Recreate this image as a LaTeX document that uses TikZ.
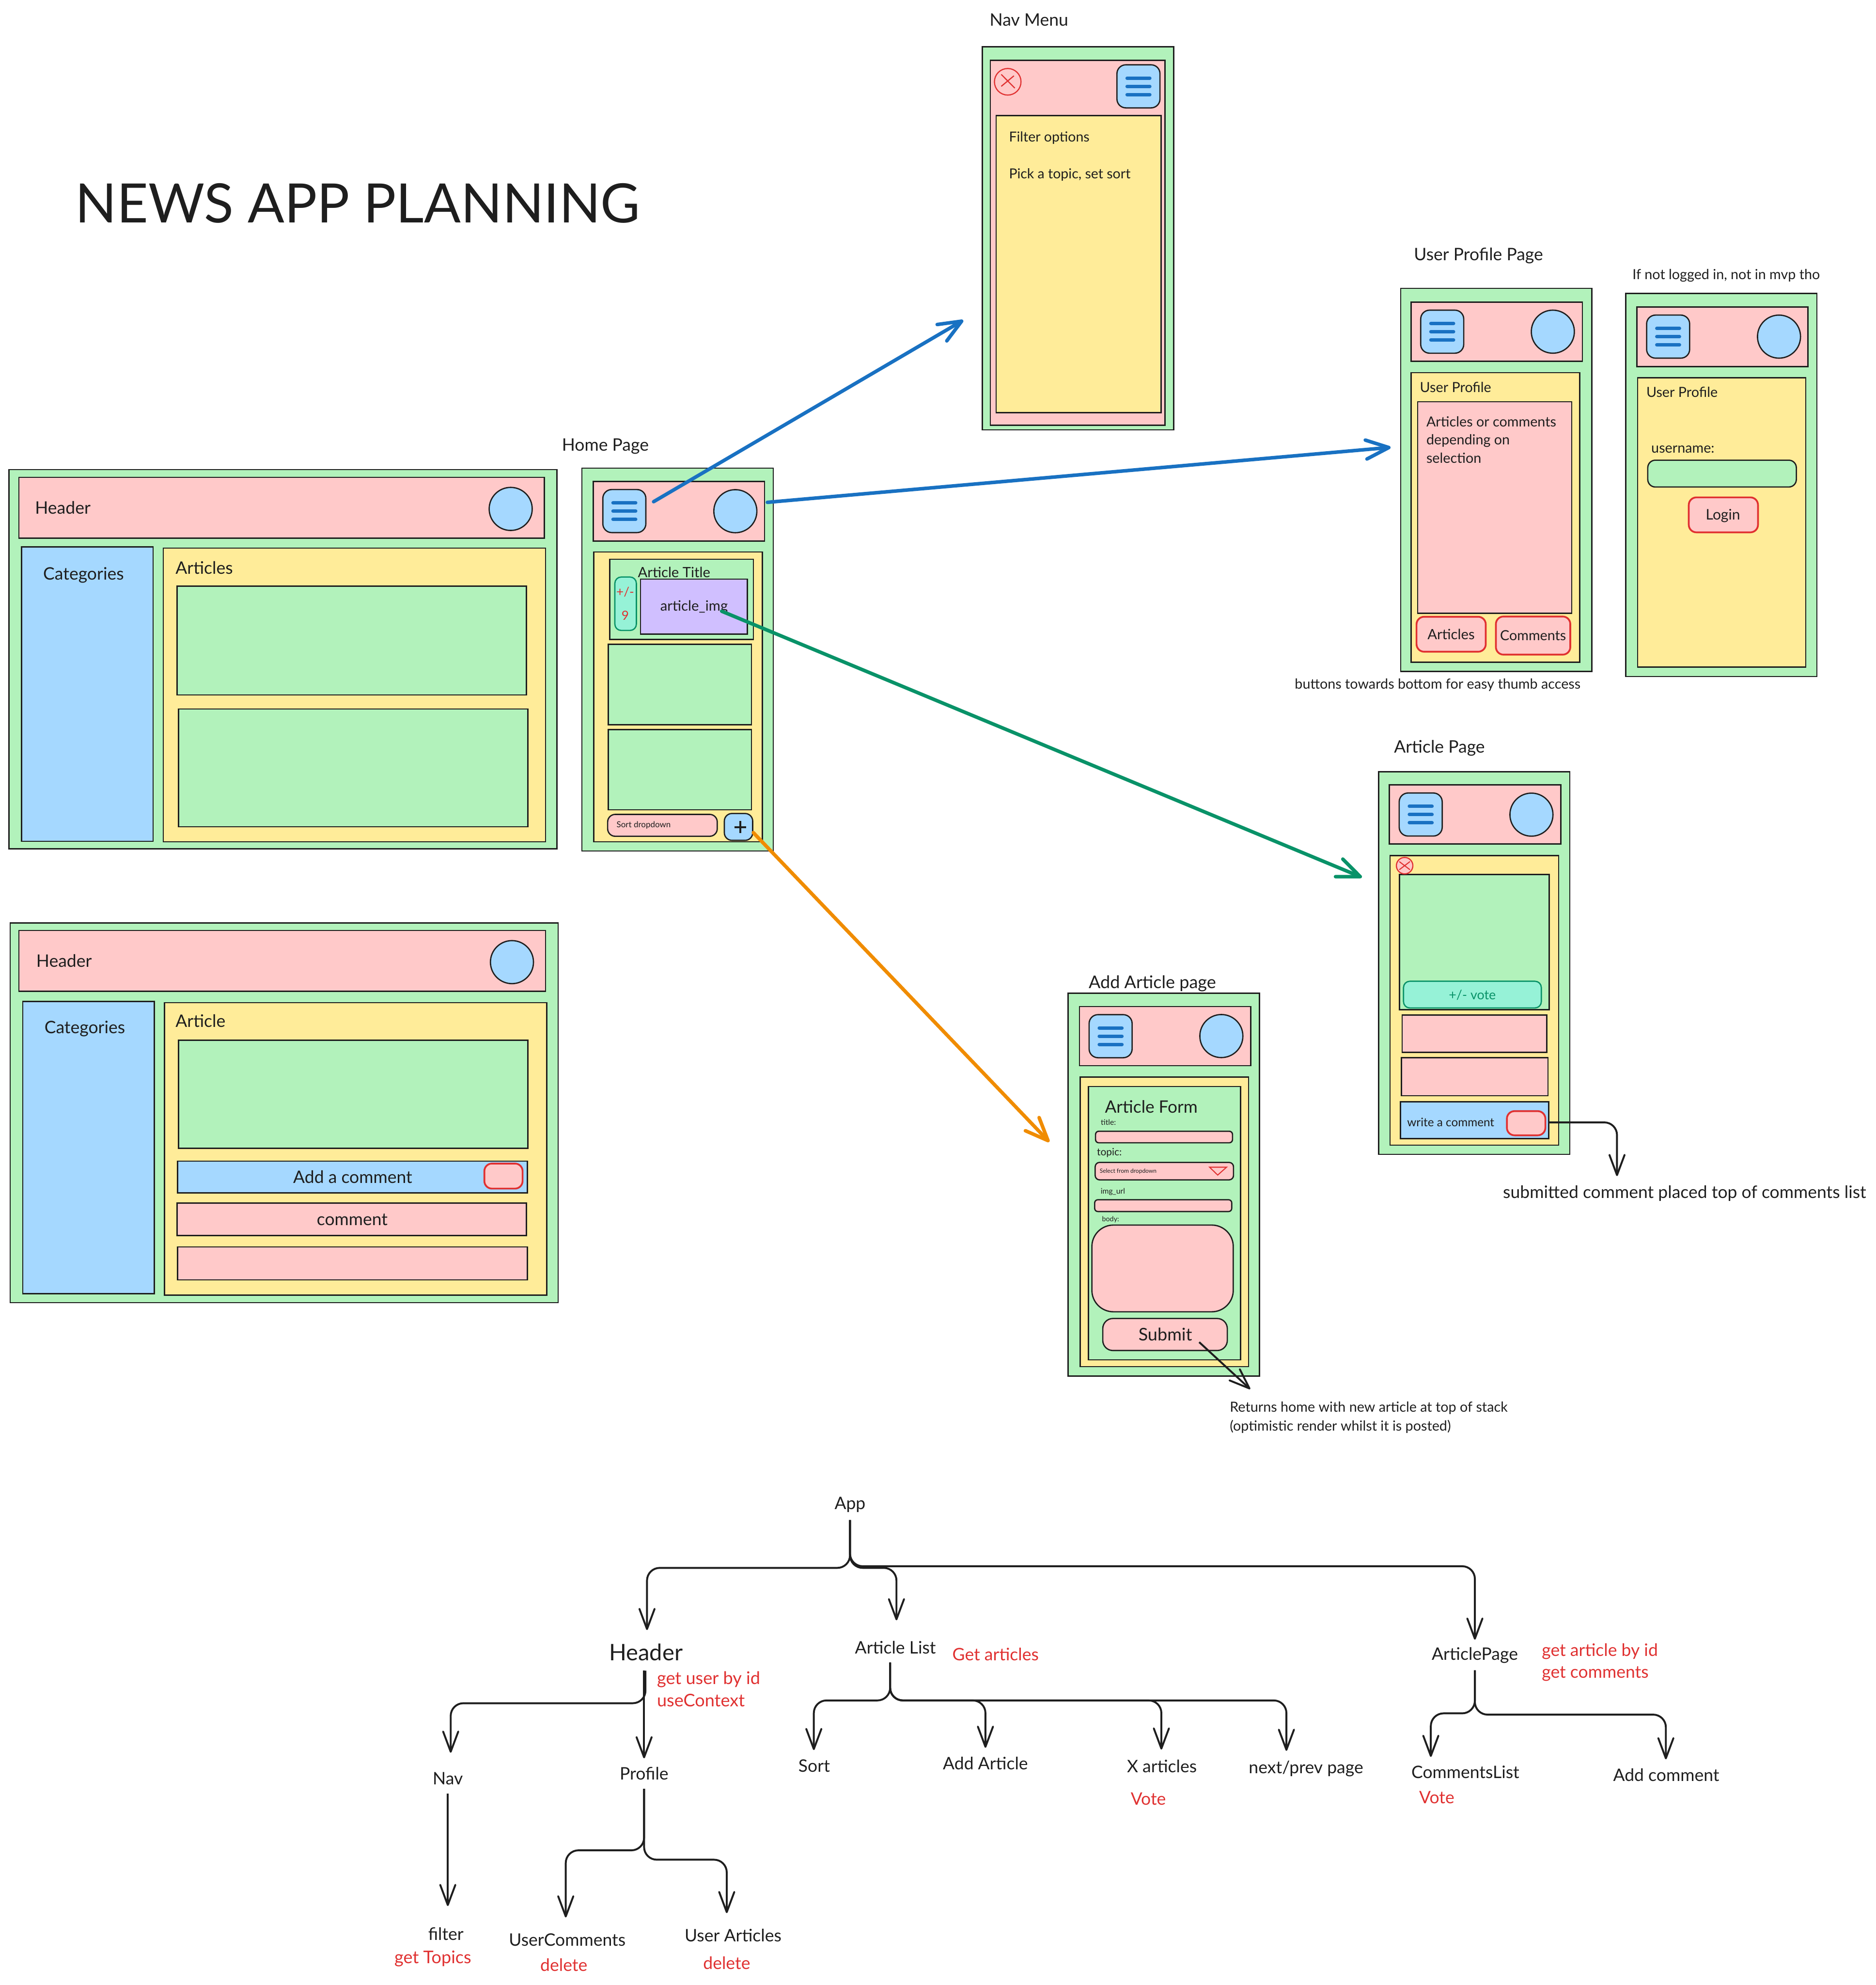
\documentclass[tikz,border=0pt]{standalone}
\usepackage{fontspec}
\setmainfont{Lato}
\usetikzlibrary{arrows.meta, fit}

\definecolor{ink}{HTML}{1E1E1E}
\definecolor{panelgreen}{HTML}{B2F2BB}
\definecolor{panelpink}{HTML}{FFC9C9}
\definecolor{panelblue}{HTML}{A5D8FF}
\definecolor{panelyellow}{HTML}{FFEC99}
\definecolor{panelpurple}{HTML}{D0BFFF}
\definecolor{panelteal}{HTML}{96F2D7}
\definecolor{redline}{HTML}{E03131}
\definecolor{greenline}{HTML}{099268}
\definecolor{blueline}{HTML}{1971C2}
\definecolor{orangeline}{HTML}{F08C00}

\begin{document}
\begin{tikzpicture}[
    x=1pt, y=-1pt,
    box/.style={draw=ink, line width=1pt, rectangle, inner sep=0pt, fill=#1},
    rbox/.style={box=#1, rounded corners=6pt},
    redbtn/.style={draw=redline, line width=1.4pt, fill=panelpink, rectangle, inner sep=0pt, rounded corners=6pt},
    tealbtn/.style={draw=greenline, line width=1pt, fill=panelteal, rectangle, inner sep=0pt, rounded corners=5pt},
    menubtn/.style={box=panelblue, rounded corners=7pt, minimum size=34pt},
    menubar/.style={draw=blueline, line width=2.6pt, line cap=round},
    avatar/.style={draw=ink, line width=1pt, circle, fill=panelblue, inner sep=0pt, minimum size=34pt},
    closer/.style={draw=redline, line width=0.9pt, circle, fill=panelpink, inner sep=0pt},
    txt/.style={inner sep=0.5pt, text=ink, font=\fontsize{#1}{#1}\selectfont},
    redtxt/.style={txt=#1, text=redline},
    bigarrow/.style={line width=2.8pt, line cap=round, draw=#1, -{Straight Barb[length=18pt,width=15pt,round]}},
    treeline/.style={draw=ink, line width=1.5pt, rounded corners=10pt, -{Straight Barb[length=16pt,width=12pt,round]}},
]
\useasboundingbox (0,0) rectangle (1482,1568);

\node[txt=42.9, anchor=west] (title) at (59,160.5) {NEWS APP PLANNING};

% Desktop home
\node[box=panelgreen, fit={(7,371)(440,670.5)}] (deskhome) {};
\node[box=panelpink, fit={(15,377)(430,425)}] (deskhomehead) {};
\node[box=panelblue, fit={(17,432)(121,664.5)}] (deskhomecats) {};
\node[box=panelyellow, fit={(129,433)(431,665)}] (deskhomelist) {};
\node[box=panelgreen, fit={(140,463)(416,549)}] (deskhomecard) {};
\node[box=panelgreen, fit={(141,560)(417,653)}] (deskhomecardb) {};
\node[avatar] (deskhomeavatar) at (403.5,402) {};
\node[txt=13.6, anchor=west] (deskhomeheadtxt) at (27,401) {Header};
\node[txt=13.6] (deskhomecatstxt) at (66,454.5) {Categories};
\node[txt=13.6, anchor=west] (deskhomelisttxt) at (138,448.5) {Articles};

% Desktop article
\node[box=panelgreen, fit={(8,729)(441,1029)}] (deskart) {};
\node[box=panelpink, fit={(15,735)(431,783)}] (deskarthead) {};
\node[box=panelblue, fit={(18,791)(122,1022)}] (deskartcats) {};
\node[box=panelyellow, fit={(130,792)(432,1023)}] (deskartbody) {};
\node[box=panelgreen, fit={(141,821.6)(417,907)}] (deskartcard) {};
\node[box=panelblue, fit={(140.4,917.2)(416.6,942.2)}] (deskartadd) {};
\node[redbtn, fit={(382.7,919.1)(412.9,938.9)}] (deskartbtn) {};
\node[box=panelpink, fit={(139.8,950.4)(416,976)}] (deskartcomment) {};
\node[box=panelpink, fit={(140.4,985)(416.6,1011)}] (deskartcommentb) {};
\node[avatar] (deskartavatar) at (404.5,760) {};
\node[txt=13.6, anchor=west] (deskartheadtxt) at (28,759) {Header};
\node[txt=13.6] (deskartcatstxt) at (67,812.5) {Categories};
\node[txt=13.6, anchor=west] (deskartbodytxt) at (138,806.5) {Article};
\node[txt=13.6] (deskartaddtxt) at (278.7,929.8) {Add a comment};
\node[txt=13.6] (deskartcommenttxt) at (278.3,963.3) {comment};

% Home page
\node[txt=13.6] (hometitle) at (478.3,352.6) {Home Page};
\node[box=panelgreen, fit={(459.7,369.8)(611,672.2)}] (home) {};
\node[box=panelpink, fit={(468.7,380.3)(604,427.3)}] (homehead) {};
\node[box=panelyellow, fit={(469.2,436)(602.4,664.9)}] (homebody) {};
\node[box=panelgreen, fit={(481.8,441.8)(595.2,505)}] (homecard) {};
\node[tealbtn, fit={(485.8,455.8)(502.8,498)}] (homevote) {};
\node[box=panelpurple, fit={(506,457.4)(590.5,501)}] (homeimg) {};
\node[box=panelgreen, fit={(480.5,508.9)(593.8,572.6)}] (homecardb) {};
\node[box=panelgreen, fit={(480.5,576.4)(593.8,639.7)}] (homecardc) {};
\node[rbox=panelpink, fit={(480.1,643.3)(566.7,660.6)}] (homesort) {};
\node[rbox=panelblue, fit={(572.3,642.6)(594.7,663.8)}] (homeplus) {};
\draw[draw=ink, line width=1.6pt] (580.2,653.3) -- (589.6,653.3) (584.9,648.6) -- (584.9,658);
\node[txt=11.2] (hometitletxt) at (532.6,452) {Article Title};
\node[redtxt=10] (homevotetxt) at (494,467.6) {+/-};
\node[redtxt=10] (homevotenum) at (494,486) {9};
\node[txt=11.2] (homeimgtxt) at (548.4,479.3) {article\_img};
\node[txt=6.5, anchor=west] (homesorttxt) at (486.5,652) {Sort dropdown};

% Nav menu
\node[txt=13.6] (navtitle) at (813,15.6) {Nav Menu};
\node[box=panelgreen, fit={(776.2,37)(927.3,339.5)}] (nav) {};
\node[box=panelpink, fit={(782.4,47.7)(920.4,336)}] (navhead) {};
\node[box=panelyellow, fit={(787,91.4)(917.4,326)}] (navbody) {};
\node[closer, minimum size=21pt] (navclose) at (796.2,64.6) {};
\draw[draw=redline, line width=0.9pt] (791.1,58.8) -- (801.8,69.6) (801.1,59.9) -- (791.1,68.2);
\node[txt=10.9, anchor=west] (navfilter) at (796.5,108.9) {Filter options};
\node[txt=10.9, anchor=west] (navpick) at (796.5,137.8) {Pick a topic, set sort};

% User profile
\node[txt=13.6] (proftitle) at (1168.2,202) {User Profile Page};
\node[box=panelgreen, fit={(1106.7,227.8)(1257.7,530.4)}] (prof) {};
\node[box=panelpink, fit={(1115,238.6)(1250.2,285.3)}] (profhead) {};
\node[box=panelyellow, fit={(1115,294.4)(1248.2,523.2)}] (profbody) {};
\node[box=panelpink, fit={(1120.1,317.3)(1241.9,484.4)}] (proflist) {};
\node[redbtn, fit={(1119.2,487.2)(1173.9,514.8)}] (profarticles) {};
\node[redbtn, fit={(1181.9,487)(1240.7,517.1)}] (profcomments) {};
\node[txt=11, anchor=west] (profbodytxt) at (1121.2,305.8) {User Profile};
\node[txt=11, anchor=north west, align=left, font=\fontsize{11}{14.4}\selectfont] (proflisttxt) at (1126.3,328.2) {Articles or comments\\depending on\\selection};
\node[txt=11.2] (profarticlestxt) at (1146.5,501) {Articles};
\node[txt=11] (profcommentstxt) at (1211.3,502) {Comments};
\node[txt=11] (profnote) at (1135.9,541) {buttons towards bottom for easy thumb access};

% Login
\node[txt=11] (loginnote) at (1363.9,217.7) {If not logged in, not in mvp tho};
\node[box=panelgreen, fit={(1284.4,231.8)(1435.6,534.4)}] (login) {};
\node[box=panelpink, fit={(1293.3,242.5)(1428.5,289.5)}] (loginhead) {};
\node[box=panelyellow, fit={(1293.9,298.3)(1426.7,526.9)}] (loginbody) {};
\node[rbox=panelgreen, fit={(1301.9,363.5)(1419.3,384.7)}] (loginfield) {};
\node[redbtn, fit={(1334.3,392.9)(1389,420.5)}] (loginbtn) {};
\node[txt=11, anchor=west] (loginbodytxt) at (1300.1,309.7) {User Profile};
\node[txt=11, anchor=west] (loginuser) at (1304,354.8) {username:};
\node[txt=11.5] (loginbtntxt) at (1361.3,407.4) {Login};

% Article page
\node[txt=13.6] (arttitle) at (1137.3,590.8) {Article Page};
\node[box=panelgreen, fit={(1089.3,609.6)(1240.3,911.8)}] (art) {};
\node[box=panelpink, fit={(1097.8,620)(1233.3,666.7)}] (arthead) {};
\node[box=panelyellow, fit={(1098.3,675.8)(1231.5,904.6)}] (artbody) {};
\node[box=panelgreen, fit={(1105.8,690.7)(1224.1,797.6)}] (artcard) {};
\node[closer, minimum size=13pt] (artclose) at (1109.8,683.8) {};
\draw[draw=redline, line width=0.8pt] (1105.6,680.6) -- (1114,687) (1114,680.6) -- (1105.6,687);
\node[tealbtn, fit={(1108.9,775.1)(1217.8,796.2)}] (artvote) {};
\node[txt=10.3, text=greenline] (artvotetxt) at (1163.3,785.8) {+/- vote};
\node[box=panelpink, fit={(1107.8,801.7)(1222,831.2)}] (artcomment) {};
\node[box=panelpink, fit={(1107.2,835.4)(1223,865.6)}] (artcommentb) {};
\node[box=panelblue, fit={(1106.5,870.2)(1223.6,899.3)}] (artwrite) {};
\node[redbtn, fit={(1190.6,877.7)(1221,896.8)}] (artbtn) {};
\node[txt=9.3, anchor=west] (artwritetxt) at (1111.1,886.6) {write a comment};
\node[txt=13.6] (artnote) at (1331,942.6) {submitted comment placed top of comments list};

% Add article page
\node[txt=13.8] (addtitle) at (910.5,776.8) {Add Article page};
\node[box=panelgreen, fit={(844,784.5)(995,1087)}] (add) {};
\node[box=panelpink, fit={(852.9,795.1)(988.1,841.8)}] (addhead) {};
\node[box=panelyellow, fit={(853.4,850.7)(986.5,1079.5)}] (addbody) {};
\node[box=panelgreen, fit={(859.9,858.2)(980.1,1074.2)}] (addform) {};
\node[rbox=panelpink, rounded corners=2.5pt, fit={(865.6,893.6)(973.8,902.7)}] (addtitlefield) {};
\node[rbox=panelpink, rounded corners=3.5pt, fit={(865.3,918.2)(974.6,932)}] (addtopicfield) {};
\node[rbox=panelpink, rounded corners=2.5pt, fit={(864.9,947.7)(973.2,957)}] (addurlfield) {};
\node[rbox=panelpink, rounded corners=17pt, fit={(862.7,967.7)(974.4,1036.2)}] (addbodyfield) {};
\node[rbox=panelpink, rounded corners=8pt, fit={(871.3,1041.5)(969.7,1066.8)}] (addsubmit) {};
\draw[draw=redline, line width=0.8pt] (955.7,922) -- (969.1,922) -- (962.1,928.2) -- cycle;
\node[txt=13.5, anchor=west] (addformtxt) at (872.3,874.3) {Article Form};
\node[txt=6, anchor=west] (addtitletxt) at (869.1,886.4) {title:};
\node[txt=8, anchor=west] (addtopictxt) at (866,910.6) {topic:};
\node[txt=4.6, anchor=west] (addselecttxt) at (868.2,925.2) {Select from dropdown};
\node[txt=6, anchor=west] (addurltxt) at (869,941.2) {img\_url};
\node[txt=5.5, anchor=west] (addbodytxt) at (870,963.2) {body:};
\node[txt=13.8] (addsubmittxt) at (920.7,1054) {Submit};
\node[txt=11, anchor=north west, align=left, font=\fontsize{11}{15}\selectfont] (addnote) at (971,1106.5) {Returns home with new article at top of stack\\(optimistic render whilst it is posted)};

% Menu buttons and avatars
\foreach \nm/\hx/\hy in {home/493.3/403.7, nav/899.5/68.2, prof/1139.5/262, login/1318/265.9, art/1122.5/643.4, add/877.5/818.5} {
    \node[menubtn] (\nm menu) at (\hx,\hy) {};
    \foreach \dy in {-6.5,0,6.5}
        \draw[menubar] (\hx-9,\hy+\dy) -- (\hx+9,\hy+\dy);
}
\foreach \nm/\hx/\hy in {home/581/403.8, prof/1226.9/262, login/1405.6/265.9, art/1210/643.5, add/965/818.4} {
    \node[avatar] (\nm avatar) at (\hx,\hy) {};
}

% Page flow arrows
\coordinate (navfrom) at (516.4,396.3);
\coordinate (navto) at (761,253);
\coordinate (proffrom) at (606.3,396.8);
\coordinate (profto) at (1098.7,353.4);
\coordinate (artfrom) at (570.2,482.8);
\coordinate (artto) at (1076,693);
\coordinate (addfrom) at (595.2,657.7);
\coordinate (addto) at (829,902);
\draw[bigarrow=blueline] (navfrom) -- (navto);
\draw[bigarrow=blueline] (proffrom) -- (profto);
\draw[bigarrow=greenline] (artfrom) -- (artto);
\draw[bigarrow=orangeline] (addfrom) -- (addto);

\coordinate (submitfrom) at (947.5,1060.2);
\coordinate (submitto) at (987.8,1097.3);
\draw[treeline] (submitfrom) -- (submitto);
\draw[treeline] (artwrite.east |- 0,886.6) -- (1277.6,886.6) -- (1277.6,929);

% Component tree
\node[txt=13.6] (app) at (671.6,1188.6) {App};
\node[txt=18] (header) at (510.4,1305) {Header};
\node[txt=13.6] (list) at (707.5,1301.5) {Article List};
\node[txt=13.6] (page) at (1165.3,1307.6) {ArticlePage};
\node[redtxt=13.8, anchor=west, align=left, font=\fontsize{13.8}{17.6}\selectfont] (headernote) at (518.4,1334.4) {get user by id\\useContext};
\node[redtxt=13.6, anchor=west] (listnote) at (751.8,1306.9) {Get articles};
\node[redtxt=13.6, anchor=west, align=left, font=\fontsize{13.6}{17.2}\selectfont] (pagenote) at (1217.5,1313.2) {get article by id\\get comments};
\node[txt=13.6] (navitem) at (353.8,1405) {Nav};
\node[txt=13.6] (profile) at (508.9,1401) {Profile};
\node[txt=13.6] (filter) at (352.3,1527.7) {filter};
\node[redtxt=13.8] (filternote) at (342,1547) {get Topics};
\node[txt=13.6] (usercomments) at (448.2,1532.3) {UserComments};
\node[redtxt=13.6] (usercommentsnote) at (445.5,1552.1) {delete};
\node[txt=13.6] (userarticles) at (579.2,1528.7) {User Articles};
\node[redtxt=13.6] (userarticlesnote) at (574.2,1550.6) {delete};
\node[txt=13.6] (sortitem) at (643.3,1394.8) {Sort};
\node[txt=13.6] (additem) at (778.6,1393) {Add Article};
\node[txt=13.6] (xarticles) at (918,1395) {X articles};
\node[redtxt=13.6] (xarticlesnote) at (907.3,1421) {Vote};
\node[txt=13.6] (nextprev) at (1031.9,1397.2) {next/prev page};
\node[txt=13.6] (comments) at (1157.8,1399.7) {CommentsList};
\node[redtxt=13.6] (commentsnote) at (1135.2,1419.7) {Vote};
\node[txt=13.6] (addcomment) at (1316.5,1402) {Add comment};

\draw[treeline] (app |- 0,1200.7) -- (671.6,1238.5) -- (511.2,1238.5) -- (511.2,1287.6);
\draw[treeline] (app |- 0,1200.7) -- (671.6,1238.5) -- (708.3,1238.5) -- (708.3,1279.9);
\draw[treeline] (app |- 0,1200.7) -- (671.6,1237.2) -- (1165.3,1237.2) -- (page |- 0,1295.2);

\draw[treeline] (510,1319.7) -- (510,1345.4) -- (356.1,1345.4) -- (356.1,1384.5);
\draw[treeline] (profile |- 0,1319.7) -- (profile |- 0,1388.9);
\draw[treeline] (navitem |- 0,1416.6) -- (navitem |- 0,1505.6);
\draw[treeline] (profile |- 0,1413) -- (508.9,1461.6) -- (447,1461.6) -- (447,1514.6);
\draw[treeline] (profile |- 0,1413) -- (508.9,1469) -- (574.2,1469) -- (574.2,1511.2);

\foreach \tgt/\tipy in {643/1382.4, 778.6/1380.6, 917.6/1382, 1016.4/1383} {
    \draw[treeline] (703.3,1313.3) -- (703.3,1343.2) -- (\tgt,1343.2) -- (\tgt,\tipy);
}
\draw[treeline] (page |- 0,1319.4) -- (1165.3,1353.4) -- (1130.5,1353.4) -- (1130.5,1387.8);
\draw[treeline] (page |- 0,1319.4) -- (1165.3,1354.4) -- (1316.2,1354.4) -- (1316.2,1389.7);

\end{tikzpicture}
\end{document}
